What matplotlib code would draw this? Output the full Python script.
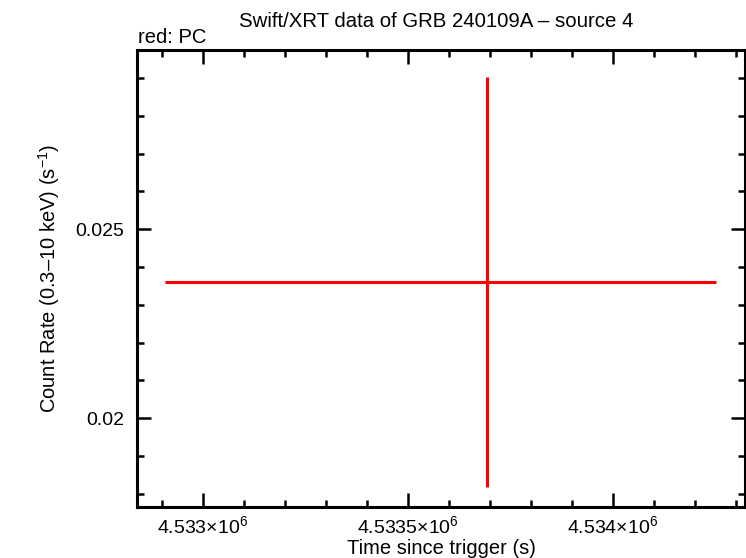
import matplotlib
matplotlib.use("Agg")
import matplotlib.pyplot as plt
from matplotlib.ticker import FixedLocator, MultipleLocator

plt.rcParams["font.family"] = ["Liberation Sans", "DejaVu Sans"]
plt.rcParams["mathtext.fontset"] = "custom"
plt.rcParams["mathtext.rm"] = "Liberation Sans"
plt.rcParams["mathtext.default"] = "regular"

# PC data point (single bin)
pc_time     = [4.533693e6]
pc_time_lo  = [4.533693e6 - 4.532907e6]
pc_time_hi  = [4.534251e6 - 4.533693e6]
pc_rate     = [0.023606]
pc_rate_err = [0.029029 - 0.023606]

x_ticks      = [4.533e6, 4.5335e6, 4.534e6]
x_ticklabels = ["4.533×10$^{6}$", "4.5335×10$^{6}$", "4.534×10$^{6}$"]
y_ticks      = [0.02, 0.025]
y_ticklabels = ["0.02", "0.025"]

fig = plt.figure(figsize=(7.46, 5.58), dpi=100)
ax = fig.add_axes([0.1836, 0.0914, 0.8151, 0.8190])

ax.errorbar(pc_time, pc_rate, xerr=[pc_time_lo, pc_time_hi], yerr=pc_rate_err,
            fmt="none", ecolor="#ff0000", elinewidth=2.2, capsize=0)

ax.set_xlim(4.532839e6, 4.534322e6)
ax.set_ylim(0.017653, 0.029743)

ax.xaxis.set_major_locator(FixedLocator(x_ticks))
ax.xaxis.set_minor_locator(MultipleLocator(100))
ax.set_xticklabels(x_ticklabels)
ax.yaxis.set_major_locator(FixedLocator(y_ticks))
ax.yaxis.set_minor_locator(MultipleLocator(0.001))
ax.set_yticklabels(y_ticklabels)

ax.tick_params(which="both", direction="in", top=True, right=True,
               width=1.8, labelsize=14, colors="black")
ax.tick_params(which="major", length=10, pad=6)
ax.tick_params(which="minor", length=5)
ax.tick_params(axis="y", which="major", pad=9)
for s in ax.spines.values():
    s.set_linewidth(2.2)

ax.set_xlabel("Time since trigger (s)", fontsize=14.5, labelpad=1)
ax.set_ylabel("Count Rate (0.3\u201310 keV) (s$^{-1}$)", fontsize=14.5, labelpad=10)

fig.text(0.585, 0.962, "Swift/XRT data of GRB 240109A \u2013 source 4",
         ha="center", va="center", fontsize=14.7)
fig.text(0.185, 0.933, "red: PC", ha="left", va="center", fontsize=14.5)

fig.savefig("out.png", dpi=100)
